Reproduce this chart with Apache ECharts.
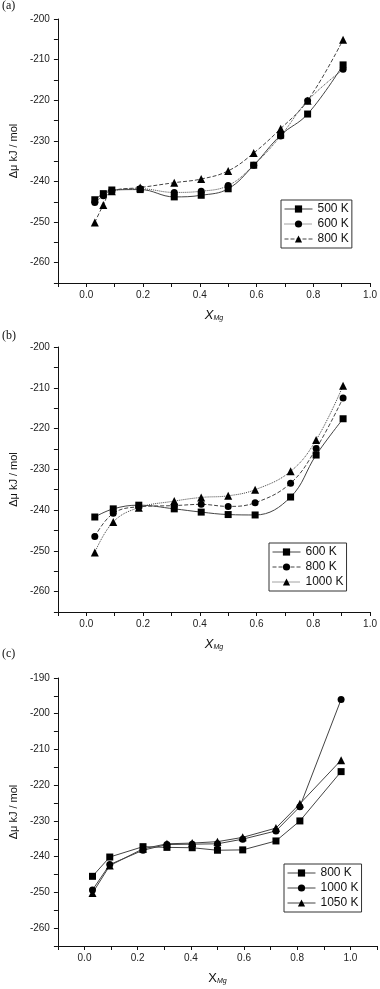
<!DOCTYPE html>
<html><head><meta charset="utf-8">
<script src="https://cdn.jsdelivr.net/npm/echarts@6/dist/echarts.min.js"></script>
<style>html,body{margin:0;padding:0;background:#fff}#c{width:380px;height:989px}</style>
</head><body><div id="c"></div>
<script>
// Panel (a)
const xA = [0.03, 0.06, 0.09, 0.19, 0.31, 0.405, 0.5, 0.59, 0.685, 0.78, 0.905];
const a500 = [-244.5, -243.0, -242.1, -242.0, -243.8, -243.4, -241.8, -236.0, -228.6, -223.4, -211.3];
const a600 = [-245.2, -243.5, -242.3, -241.8, -242.7, -242.4, -241.0, -236.0, -228.8, -220.1, -212.4];
const a800 = [-250.1, -245.8, -242.4, -241.5, -240.3, -239.4, -237.4, -233.0, -227.0, -220.1, -205.1];
// Panel (b)
const xB = [0.03, 0.095, 0.185, 0.31, 0.405, 0.5, 0.595, 0.72, 0.81, 0.905];
const b600 = [-241.7, -239.7, -238.8, -239.7, -240.5, -241.1, -241.2, -236.8, -226.5, -217.6];
const b800 = [-246.5, -240.8, -239.2, -238.9, -238.6, -239.1, -238.2, -233.4, -224.9, -212.5];
const b1000 = [-250.4, -242.9, -239.4, -237.8, -236.9, -236.5, -235.0, -230.5, -222.8, -209.5];
// Panel (c)
const xC = [0.03, 0.095, 0.22, 0.31, 0.405, 0.5, 0.595, 0.72, 0.81, 0.965];
const c800 = [-245.5, -240.1, -237.2, -237.4, -237.5, -238.2, -238.1, -235.6, -230.0, -216.2];
const c1000 = [-249.3, -242.2, -238.2, -236.6, -236.5, -236.4, -235.1, -232.8, -226.0, -196.0];
const c1050 = [-250.2, -242.5, -237.8, -236.4, -236.2, -235.8, -234.6, -232.0, -225.2, -213.0];

const panelLabels = ['(a)', '(b)', '(c)'];

const zip = (xs, ys) => xs.map((x, i) => [x, ys[i]]);
const SANS = 'Liberation Sans';

function xAxis(gi, max, italicX) {
  return {
    type: 'value', gridIndex: gi, min: -0.1, max: max, interval: 0.1,
    axisLine: {show: true, onZero: false, lineStyle: {color: '#111', width: 1}},
    axisTick: {show: true, length: 4, inside: false, lineStyle: {color: '#111'}},
    splitLine: {show: false},
    axisLabel: {
      fontFamily: SANS, fontSize: 10, color: '#222', margin: 7,
      formatter: v => { const k = Math.round(v * 10); return (k % 2 === 0 && k >= 0) ? (k / 10).toFixed(1) : ''; }
    },
    name: '{x|X}{s|Mg}', nameLocation: 'middle', nameGap: 24,
    nameTextStyle: {
      rich: {
        x: {fontFamily: SANS, fontSize: 13, fontStyle: italicX ? 'italic' : 'normal', color: '#111', verticalAlign: 'bottom'},
        s: {fontFamily: SANS, fontSize: 7, fontStyle: 'italic', color: '#111', verticalAlign: 'bottom', padding: [8, 0, 0, 0]}
      }
    }
  };
}
function yAxis(gi, max) {
  return {
    type: 'value', gridIndex: gi, min: -265, max: max, interval: 5,
    axisLine: {show: true, onZero: false, lineStyle: {color: '#111', width: 1}},
    axisTick: {show: true, length: 4, lineStyle: {color: '#111'}},
    splitLine: {show: false},
    axisLabel: {
      fontFamily: SANS, fontSize: 10, color: '#222', margin: 8,
      formatter: v => (Math.round(v) % 10 === 0 ? String(Math.round(v)) : '')
    },
    name: 'Δμ kJ / mol', nameLocation: 'middle', nameGap: 36,
    nameTextStyle: {fontFamily: SANS, fontSize: 11, color: '#111'}
  };
}
function ser(name, gi, xs, ys, sym, size, type, smooth) {
  return {
    name: name, type: 'line', xAxisIndex: gi, yAxisIndex: gi,
    data: zip(xs, ys), symbol: sym, symbolSize: size, smooth: smooth,
    showSymbol: true,
    itemStyle: {color: '#000'},
    lineStyle: {color: '#444', width: 1, type: type},
    emphasis: {disabled: true}, animation: false, z: 3
  };
}
function legend(names, left, top) {
  return {
    data: names, orient: 'vertical', left: left, top: top,
    padding: [3, 3, 3, 3], itemGap: 3, itemWidth: 28, itemHeight: 9,
    borderColor: '#333', borderWidth: 1, borderRadius: 0,
    formatter: n => n.slice(1) + ' K',
    lineStyle: {color: '#444', width: 1},
    textStyle: {fontFamily: SANS, fontSize: 12, color: '#111', padding: [0, 0, 0, 0]},
    selectedMode: false
  };
}

const chart = echarts.init(document.getElementById('c'), null, {renderer: 'canvas'});
chart.setOption({
  animation: false,
  backgroundColor: '#fff',
  grid: [
    {left: 48, top: 19, width: 324, height: 264},
    {left: 48, top: 347, width: 324, height: 265},
    {left: 49, top: 678, width: 329, height: 268}
  ],
  xAxis: [xAxis(0, 1.0, true), xAxis(1, 1.0, true), xAxis(2, 1.1, false)],
  yAxis: [yAxis(0, -200), yAxis(1, -200), yAxis(2, -190)],
  legend: [
    legend(['a500', 'a600', 'a800'], 281, 200),
    legend(['b600', 'b800', 'b1000'], 269, 543),
    legend(['c800', 'c1000', 'c1050'], 284, 864)
  ],
  series: [
    ser('a500', 0, xA, a500, 'rect', 7, 'solid', 0.4),
    ser('a600', 0, xA, a600, 'circle', 7, 'dotted', 0.4),
    ser('a800', 0, xA, a800, 'triangle', 8, 'dashed', 0.4),
    ser('b600', 1, xB, b600, 'rect', 7, 'solid', 0.4),
    ser('b800', 1, xB, b800, 'circle', 7, 'dashed', 0.4),
    ser('b1000', 1, xB, b1000, 'triangle', 8, 'dotted', 0.4),
    ser('c800', 2, xC, c800, 'rect', 7, 'solid', false),
    ser('c1000', 2, xC, c1000, 'circle', 7, 'solid', false),
    ser('c1050', 2, xC, c1050, 'triangle', 8, 'solid', false)
  ],
  graphic: [
    {type: 'text', left: 2, top: 0, style: {text: panelLabels[0], font: '12px "Liberation Serif"', fill: '#111'}},
    {type: 'text', left: 2, top: 330, style: {text: panelLabels[1], font: '12px "Liberation Serif"', fill: '#111'}},
    {type: 'text', left: 2, top: 648, style: {text: panelLabels[2], font: '12px "Liberation Serif"', fill: '#111'}}
  ]
});
</script></body></html>
